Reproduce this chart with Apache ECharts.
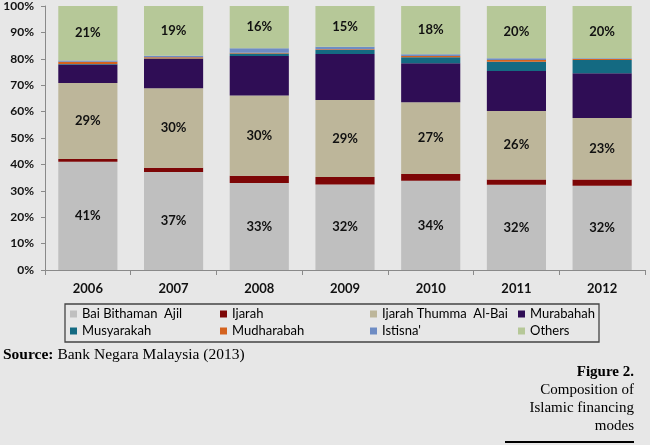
<!DOCTYPE html>
<html>
<head>
<meta charset="utf-8">
<script src="https://cdn.jsdelivr.net/npm/echarts@6/dist/echarts.min.js"></script>
<style>
html,body{margin:0;padding:0;background:#e7e7e7;}
#chart{width:650px;height:445px;}
</style>
</head>
<body>
<div id="chart"></div>
<script>
var years = ['2006','2007','2008','2009','2010','2011','2012'];
var baiBithamanAjil   = [41.0, 37.1, 33.0, 32.4, 33.8, 32.3, 31.9];
var ijarah            = [1.0, 1.6, 2.7, 2.8, 2.6, 2.0, 2.4];
var ijarahThumma      = [28.8, 30.1, 30.4, 29.2, 27.1, 25.9, 23.3];
var murabahah         = [7.0, 11.1, 15.0, 17.4, 14.8, 15.2, 16.9];
var musyarakah        = [0.2, 0.2, 0.9, 1.5, 2.3, 3.5, 5.0];
var mudharabah        = [0.9, 0.5, 0.3, 0.3, 0.5, 0.6, 0.4];
var istisna           = [0.5, 0.6, 1.7, 1.0, 0.6, 0.7, 0.3];
var others            = [20.6, 18.8, 16.0, 15.4, 18.3, 19.8, 19.8];
var yTicks = ['0%','10%','20%','30%','40%','50%','60%','70%','80%','90%','100%'];

var names = ['Bai Bithaman  Ajil','Ijarah','Ijarah Thumma  Al-Bai','Murabahah','Musyarakah','Mudharabah',"Istisna'",'Others'];
var colors = ['#bfbfbf','#7d0606','#bdb69a','#2f0d55','#146a82','#d4621e','#6e8cc4','#b6c898'];
var datas = [baiBithamanAjil, ijarah, ijarahThumma, murabahah, musyarakah, mudharabah, istisna, others];
var labelled = [true,false,true,false,false,false,false,true];

var font = 'Lato, "Open Sans", sans-serif';
var serif = '"Liberation Serif", serif';
var series = names.map(function(n,i){
  return {
    name: n, type: 'bar', stack: 'total', data: datas[i],
    barCategoryGap: '31%',
    itemStyle: {color: colors[i]},
    label: {
      show: labelled[i], position: 'inside',
      formatter: function(p){ return Math.round(p.value) + '%'; },
      color: '#111', fontFamily: font, fontWeight: 'bold', fontSize: 13
    }
  };
});

function legendCol(items, left){
  return {
    orient: 'vertical', left: left, top: 307, itemGap: 3,
    itemWidth: 7, itemHeight: 7, icon: 'rect', data: items,
    selectedMode: false, padding: 0,
    textStyle: {fontFamily: font, fontSize: 13, color: '#000', lineHeight: 14}
  };
}

function rightText(txt, y, bold){
  return {type: 'text', x: 634, y: y,
    style: {text: txt, fontFamily: serif, fontWeight: bold ? 'bold' : 'normal', fontSize: 15,
      fill: '#000', align: 'right', verticalAlign: 'middle'}};
}

var chart = echarts.init(document.getElementById('chart'));
chart.setOption({
  backgroundColor: '#e7e7e7',
  animation: false,
  grid: {left: 45, right: 5, top: 6, bottom: 175},
  xAxis: {
    type: 'category', data: years,
    axisLine: {lineStyle: {color: '#8a8a8a'}},
    axisTick: {show: true, length: 5, lineStyle: {color: '#8a8a8a'}},
    axisLabel: {fontFamily: font, fontWeight: 'bold', fontSize: 13, color: '#111', margin: 12}
  },
  yAxis: {
    type: 'value', min: 0, max: 100, interval: 10,
    axisLine: {show: true, lineStyle: {color: '#8a8a8a'}},
    axisTick: {show: true, length: 4, lineStyle: {color: '#8a8a8a'}},
    splitLine: {show: false},
    axisLabel: {fontFamily: font, fontWeight: 'bold', fontSize: 12, color: '#111', margin: 11,
      formatter: function(v){ return yTicks[Math.round(v/10)]; }}
  },
  legend: [
    legendCol([names[0], names[4]], 70),
    legendCol([names[1], names[5]], 220),
    legendCol([names[2], names[6]], 370),
    legendCol([names[3], names[7]], 518)
  ],
  graphic: [
    {type: 'rect', shape: {x: 65, y: 304, width: 534, height: 38},
      style: {fill: 'none', stroke: '#444', lineWidth: 1.3}, z: 0},
    {type: 'text', x: 3, y: 355,
      style: {text: '{b|Source:} Bank Negara Malaysia (2013)', verticalAlign: 'middle',
        rich: {b: {fontWeight: 'bold', fontFamily: serif, fontSize: 15.5, fill: '#000'}},
        fontFamily: serif, fontSize: 15.5, fill: '#000'}},
    rightText('Figure 2.', 372, true),
    rightText('Composition of', 390, false),
    rightText('Islamic financing', 408, false),
    rightText('modes', 426, false),
    {type: 'rect', shape: {x: 505, y: 441, width: 129, height: 2}, style: {fill: '#000'}}
  ],
  series: series
});
</script>
</body>
</html>
